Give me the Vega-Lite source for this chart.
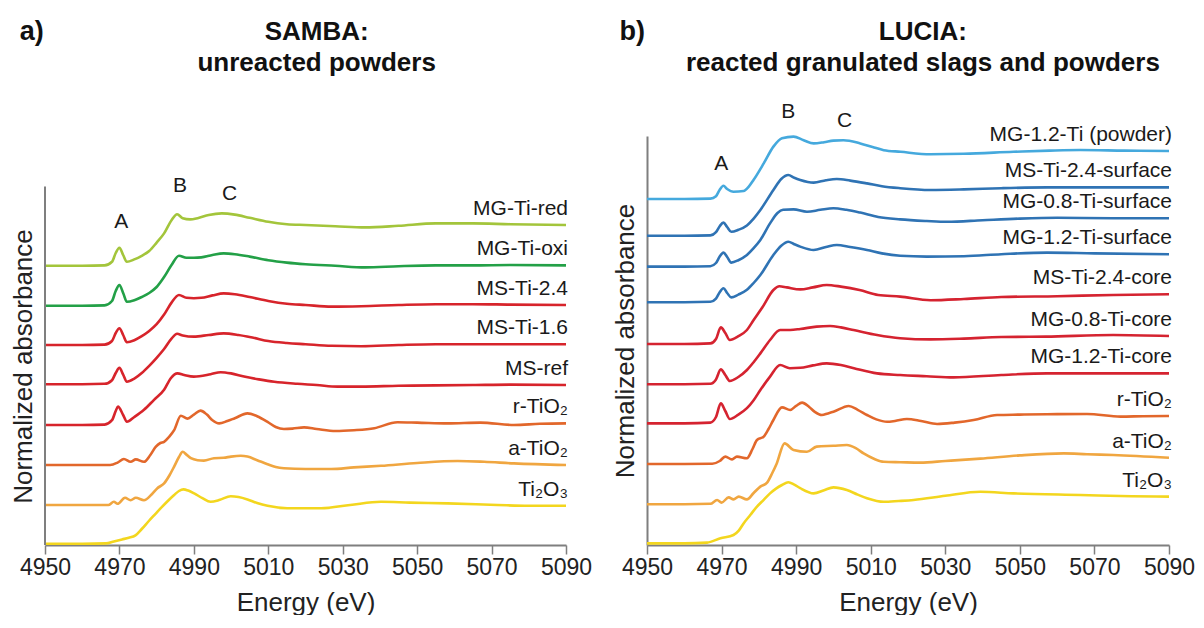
{
"$schema": "https://vega.github.io/schema/vega-lite/v6.json",
"background": "white",
"padding": {"left": 10, "top": 18, "right": 5, "bottom": 0},
"spacing": 20,
"config": {
  "view": {"stroke": null},
  "font": "Liberation Sans",
  "axisX": {"format": "d", "labelOverlap": false, "labelFlush": false, "grid": false, "labelFontSize": 23, "labelColor": "#222222", "labelPadding": 2, "tickSize": 9, "tickColor": "#7f7f7f", "tickWidth": 1.5, "domainColor": "#7f7f7f", "domainWidth": 2, "titleFontSize": 26, "titleFontWeight": "normal", "titleColor": "#222222", "titlePadding": 10},
  "axisY": {"labels": false, "ticks": false, "grid": false, "domainColor": "#7f7f7f", "domainWidth": 2, "titleFontSize": 26, "titleFontWeight": "normal", "titleColor": "#222222", "titlePadding": 9}
},
"resolve": {"scale": {"color": "independent"}},
"hconcat": [
{
  "width": 521, "height": 409,
  "data": {"values": [
{"s":"MG-Ti-red","e":4950,"v":6.98},{"s":"MG-Ti-red","e":4960,"v":6.98},{"s":"MG-Ti-red","e":4966,"v":6.99},{"s":"MG-Ti-red","e":4968,"v":7.08},{"s":"MG-Ti-red","e":4969,"v":7.3},{"s":"MG-Ti-red","e":4970,"v":7.43},{"s":"MG-Ti-red","e":4971,"v":7.25},{"s":"MG-Ti-red","e":4972,"v":7.08},{"s":"MG-Ti-red","e":4974,"v":7.14},{"s":"MG-Ti-red","e":4976,"v":7.23},{"s":"MG-Ti-red","e":4978,"v":7.35},{"s":"MG-Ti-red","e":4980,"v":7.56},{"s":"MG-Ti-red","e":4982,"v":7.79},{"s":"MG-Ti-red","e":4984,"v":8.12},{"s":"MG-Ti-red","e":4985.5,"v":8.27},{"s":"MG-Ti-red","e":4987,"v":8.17},{"s":"MG-Ti-red","e":4989,"v":8.14},{"s":"MG-Ti-red","e":4991,"v":8.17},{"s":"MG-Ti-red","e":4994,"v":8.25},{"s":"MG-Ti-red","e":4997.5,"v":8.29},{"s":"MG-Ti-red","e":5001,"v":8.26},{"s":"MG-Ti-red","e":5005,"v":8.18},{"s":"MG-Ti-red","e":5010,"v":8.08},{"s":"MG-Ti-red","e":5015,"v":8.02},{"s":"MG-Ti-red","e":5020,"v":8.0},{"s":"MG-Ti-red","e":5028,"v":7.97},{"s":"MG-Ti-red","e":5036,"v":7.94},{"s":"MG-Ti-red","e":5045,"v":7.98},{"s":"MG-Ti-red","e":5055,"v":8.04},{"s":"MG-Ti-red","e":5065,"v":8.04},{"s":"MG-Ti-red","e":5075,"v":8.02},{"s":"MG-Ti-red","e":5090,"v":8.0},
{"s":"MG-Ti-oxi","e":4950,"v":5.98},{"s":"MG-Ti-oxi","e":4960,"v":5.98},{"s":"MG-Ti-oxi","e":4966,"v":5.99},{"s":"MG-Ti-oxi","e":4968,"v":6.1},{"s":"MG-Ti-oxi","e":4969,"v":6.35},{"s":"MG-Ti-oxi","e":4970,"v":6.5},{"s":"MG-Ti-oxi","e":4971,"v":6.3},{"s":"MG-Ti-oxi","e":4972,"v":6.08},{"s":"MG-Ti-oxi","e":4974,"v":6.12},{"s":"MG-Ti-oxi","e":4976,"v":6.2},{"s":"MG-Ti-oxi","e":4978,"v":6.3},{"s":"MG-Ti-oxi","e":4980,"v":6.45},{"s":"MG-Ti-oxi","e":4982,"v":6.7},{"s":"MG-Ti-oxi","e":4984,"v":7.0},{"s":"MG-Ti-oxi","e":4986,"v":7.23},{"s":"MG-Ti-oxi","e":4988,"v":7.18},{"s":"MG-Ti-oxi","e":4990,"v":7.18},{"s":"MG-Ti-oxi","e":4992,"v":7.19},{"s":"MG-Ti-oxi","e":4995,"v":7.25},{"s":"MG-Ti-oxi","e":4998,"v":7.29},{"s":"MG-Ti-oxi","e":5001,"v":7.27},{"s":"MG-Ti-oxi","e":5005,"v":7.21},{"s":"MG-Ti-oxi","e":5010,"v":7.12},{"s":"MG-Ti-oxi","e":5015,"v":7.06},{"s":"MG-Ti-oxi","e":5020,"v":7.02},{"s":"MG-Ti-oxi","e":5028,"v":6.98},{"s":"MG-Ti-oxi","e":5036,"v":6.94},{"s":"MG-Ti-oxi","e":5045,"v":6.97},{"s":"MG-Ti-oxi","e":5055,"v":6.99},{"s":"MG-Ti-oxi","e":5065,"v":6.99},{"s":"MG-Ti-oxi","e":5075,"v":7.0},{"s":"MG-Ti-oxi","e":5090,"v":6.99},
{"s":"MS-Ti-2.4","e":4950,"v":5.0},{"s":"MS-Ti-2.4","e":4960,"v":5.0},{"s":"MS-Ti-2.4","e":4966,"v":5.01},{"s":"MS-Ti-2.4","e":4968,"v":5.1},{"s":"MS-Ti-2.4","e":4969,"v":5.3},{"s":"MS-Ti-2.4","e":4970,"v":5.42},{"s":"MS-Ti-2.4","e":4971,"v":5.25},{"s":"MS-Ti-2.4","e":4972,"v":5.07},{"s":"MS-Ti-2.4","e":4974,"v":5.12},{"s":"MS-Ti-2.4","e":4976,"v":5.22},{"s":"MS-Ti-2.4","e":4978,"v":5.35},{"s":"MS-Ti-2.4","e":4980,"v":5.52},{"s":"MS-Ti-2.4","e":4982,"v":5.76},{"s":"MS-Ti-2.4","e":4984,"v":6.06},{"s":"MS-Ti-2.4","e":4986,"v":6.25},{"s":"MS-Ti-2.4","e":4988,"v":6.18},{"s":"MS-Ti-2.4","e":4990,"v":6.17},{"s":"MS-Ti-2.4","e":4992,"v":6.18},{"s":"MS-Ti-2.4","e":4995,"v":6.24},{"s":"MS-Ti-2.4","e":4998,"v":6.29},{"s":"MS-Ti-2.4","e":5001,"v":6.27},{"s":"MS-Ti-2.4","e":5005,"v":6.2},{"s":"MS-Ti-2.4","e":5010,"v":6.1},{"s":"MS-Ti-2.4","e":5015,"v":6.03},{"s":"MS-Ti-2.4","e":5020,"v":6.0},{"s":"MS-Ti-2.4","e":5027,"v":5.96},{"s":"MS-Ti-2.4","e":5035,"v":5.97},{"s":"MS-Ti-2.4","e":5045,"v":6.0},{"s":"MS-Ti-2.4","e":5055,"v":6.02},{"s":"MS-Ti-2.4","e":5065,"v":6.02},{"s":"MS-Ti-2.4","e":5075,"v":6.01},{"s":"MS-Ti-2.4","e":5090,"v":6.0},
{"s":"MS-Ti-1.6","e":4950,"v":4.02},{"s":"MS-Ti-1.6","e":4960,"v":4.02},{"s":"MS-Ti-1.6","e":4966,"v":4.03},{"s":"MS-Ti-1.6","e":4968,"v":4.12},{"s":"MS-Ti-1.6","e":4969,"v":4.3},{"s":"MS-Ti-1.6","e":4970,"v":4.43},{"s":"MS-Ti-1.6","e":4971,"v":4.26},{"s":"MS-Ti-1.6","e":4972,"v":4.08},{"s":"MS-Ti-1.6","e":4974,"v":4.16},{"s":"MS-Ti-1.6","e":4976,"v":4.3},{"s":"MS-Ti-1.6","e":4978,"v":4.48},{"s":"MS-Ti-1.6","e":4980,"v":4.68},{"s":"MS-Ti-1.6","e":4982,"v":4.9},{"s":"MS-Ti-1.6","e":4984,"v":5.16},{"s":"MS-Ti-1.6","e":4985.5,"v":5.28},{"s":"MS-Ti-1.6","e":4987,"v":5.24},{"s":"MS-Ti-1.6","e":4990,"v":5.21},{"s":"MS-Ti-1.6","e":4994,"v":5.25},{"s":"MS-Ti-1.6","e":4998,"v":5.29},{"s":"MS-Ti-1.6","e":5002,"v":5.25},{"s":"MS-Ti-1.6","e":5006,"v":5.18},{"s":"MS-Ti-1.6","e":5010,"v":5.1},{"s":"MS-Ti-1.6","e":5015,"v":5.05},{"s":"MS-Ti-1.6","e":5020,"v":5.02},{"s":"MS-Ti-1.6","e":5027,"v":4.98},{"s":"MS-Ti-1.6","e":5035,"v":4.97},{"s":"MS-Ti-1.6","e":5045,"v":5.0},{"s":"MS-Ti-1.6","e":5055,"v":5.02},{"s":"MS-Ti-1.6","e":5065,"v":5.02},{"s":"MS-Ti-1.6","e":5075,"v":5.02},{"s":"MS-Ti-1.6","e":5090,"v":5.02},
{"s":"MS-ref","e":4950,"v":3.0},{"s":"MS-ref","e":4960,"v":3.0},{"s":"MS-ref","e":4966,"v":3.01},{"s":"MS-ref","e":4968,"v":3.12},{"s":"MS-ref","e":4969,"v":3.35},{"s":"MS-ref","e":4969.6,"v":3.46},{"s":"MS-ref","e":4971,"v":3.25},{"s":"MS-ref","e":4972,"v":3.08},{"s":"MS-ref","e":4974,"v":3.2},{"s":"MS-ref","e":4976.6,"v":3.38},{"s":"MS-ref","e":4979.3,"v":3.63},{"s":"MS-ref","e":4982,"v":3.88},{"s":"MS-ref","e":4983.8,"v":4.17},{"s":"MS-ref","e":4985.6,"v":4.29},{"s":"MS-ref","e":4987.4,"v":4.25},{"s":"MS-ref","e":4990,"v":4.21},{"s":"MS-ref","e":4994.5,"v":4.27},{"s":"MS-ref","e":4997.2,"v":4.32},{"s":"MS-ref","e":5000,"v":4.29},{"s":"MS-ref","e":5003.5,"v":4.21},{"s":"MS-ref","e":5007.5,"v":4.14},{"s":"MS-ref","e":5011.6,"v":4.08},{"s":"MS-ref","e":5017.8,"v":4.03},{"s":"MS-ref","e":5023,"v":4.0},{"s":"MS-ref","e":5028.6,"v":3.96},{"s":"MS-ref","e":5035,"v":3.96},{"s":"MS-ref","e":5045,"v":3.98},{"s":"MS-ref","e":5055,"v":3.99},{"s":"MS-ref","e":5065,"v":4.0},{"s":"MS-ref","e":5075,"v":4.01},{"s":"MS-ref","e":5090,"v":4.0},
{"s":"r-TiO₂","e":4950,"v":2.0},{"s":"r-TiO₂","e":4960,"v":2.0},{"s":"r-TiO₂","e":4967.5,"v":2.0},{"s":"r-TiO₂","e":4969.5,"v":2.06},{"s":"r-TiO₂","e":4971.2,"v":2.15},{"s":"r-TiO₂","e":4973,"v":2.08},{"s":"r-TiO₂","e":4974.4,"v":2.14},{"s":"r-TiO₂","e":4976.6,"v":2.08},{"s":"r-TiO₂","e":4978.3,"v":2.25},{"s":"r-TiO₂","e":4979.8,"v":2.46},{"s":"r-TiO₂","e":4981,"v":2.55},{"s":"r-TiO₂","e":4982,"v":2.58},{"s":"r-TiO₂","e":4983.3,"v":2.7},{"s":"r-TiO₂","e":4984.7,"v":2.87},{"s":"r-TiO₂","e":4986.5,"v":3.23},{"s":"r-TiO₂","e":4988.3,"v":3.16},{"s":"r-TiO₂","e":4990,"v":3.26},{"s":"r-TiO₂","e":4991.8,"v":3.36},{"s":"r-TiO₂","e":4993.5,"v":3.26},{"s":"r-TiO₂","e":4995,"v":3.12},{"s":"r-TiO₂","e":4996.8,"v":3.04},{"s":"r-TiO₂","e":4999,"v":3.1},{"s":"r-TiO₂","e":5001,"v":3.17},{"s":"r-TiO₂","e":5004.4,"v":3.29},{"s":"r-TiO₂","e":5007,"v":3.22},{"s":"r-TiO₂","e":5009.8,"v":3.08},{"s":"r-TiO₂","e":5012,"v":2.95},{"s":"r-TiO₂","e":5014.2,"v":2.9},{"s":"r-TiO₂","e":5016.5,"v":2.91},{"s":"r-TiO₂","e":5019.6,"v":2.94},{"s":"r-TiO₂","e":5023,"v":2.9},{"s":"r-TiO₂","e":5028.1,"v":2.85},{"s":"r-TiO₂","e":5033,"v":2.87},{"s":"r-TiO₂","e":5038.5,"v":2.92},{"s":"r-TiO₂","e":5044.7,"v":3.07},{"s":"r-TiO₂","e":5050,"v":3.06},{"s":"r-TiO₂","e":5058.2,"v":3.04},{"s":"r-TiO₂","e":5067,"v":3.06},{"s":"r-TiO₂","e":5076,"v":3.0},{"s":"r-TiO₂","e":5083,"v":3.03},{"s":"r-TiO₂","e":5090,"v":3.04},
{"s":"a-TiO₂","e":4950,"v":1.0},{"s":"a-TiO₂","e":4960,"v":1.0},{"s":"a-TiO₂","e":4967,"v":1.0},{"s":"a-TiO₂","e":4968.5,"v":1.08},{"s":"a-TiO₂","e":4969.5,"v":1.03},{"s":"a-TiO₂","e":4971.5,"v":1.18},{"s":"a-TiO₂","e":4973,"v":1.12},{"s":"a-TiO₂","e":4974.4,"v":1.18},{"s":"a-TiO₂","e":4976.6,"v":1.12},{"s":"a-TiO₂","e":4978.5,"v":1.25},{"s":"a-TiO₂","e":4980.2,"v":1.42},{"s":"a-TiO₂","e":4982,"v":1.54},{"s":"a-TiO₂","e":4983.5,"v":1.75},{"s":"a-TiO₂","e":4984.7,"v":1.96},{"s":"a-TiO₂","e":4986,"v":2.2},{"s":"a-TiO₂","e":4987,"v":2.33},{"s":"a-TiO₂","e":4988,"v":2.26},{"s":"a-TiO₂","e":4989.2,"v":2.17},{"s":"a-TiO₂","e":4991,"v":2.12},{"s":"a-TiO₂","e":4992.7,"v":2.11},{"s":"a-TiO₂","e":4995.4,"v":2.17},{"s":"a-TiO₂","e":4998,"v":2.18},{"s":"a-TiO₂","e":5000,"v":2.21},{"s":"a-TiO₂","e":5002.6,"v":2.23},{"s":"a-TiO₂","e":5004.4,"v":2.21},{"s":"a-TiO₂","e":5007,"v":2.12},{"s":"a-TiO₂","e":5009.8,"v":2.02},{"s":"a-TiO₂","e":5012,"v":1.95},{"s":"a-TiO₂","e":5014.2,"v":1.92},{"s":"a-TiO₂","e":5020,"v":1.9},{"s":"a-TiO₂","e":5026.9,"v":1.9},{"s":"a-TiO₂","e":5033,"v":1.94},{"s":"a-TiO₂","e":5040.3,"v":1.98},{"s":"a-TiO₂","e":5050,"v":2.05},{"s":"a-TiO₂","e":5060.9,"v":2.1},{"s":"a-TiO₂","e":5068,"v":2.08},{"s":"a-TiO₂","e":5076,"v":2.04},{"s":"a-TiO₂","e":5090,"v":2.0},
{"s":"Ti₂O₃","e":4950,"v":0.03},{"s":"Ti₂O₃","e":4960,"v":0.03},{"s":"Ti₂O₃","e":4966.4,"v":0.04},{"s":"Ti₂O₃","e":4968.5,"v":0.09},{"s":"Ti₂O₃","e":4970.7,"v":0.14},{"s":"Ti₂O₃","e":4972.5,"v":0.18},{"s":"Ti₂O₃","e":4974.3,"v":0.24},{"s":"Ti₂O₃","e":4976,"v":0.4},{"s":"Ti₂O₃","e":4977.9,"v":0.6},{"s":"Ti₂O₃","e":4979.7,"v":0.78},{"s":"Ti₂O₃","e":4981.5,"v":0.96},{"s":"Ti₂O₃","e":4983.2,"v":1.12},{"s":"Ti₂O₃","e":4984.7,"v":1.25},{"s":"Ti₂O₃","e":4986,"v":1.35},{"s":"Ti₂O₃","e":4987.2,"v":1.39},{"s":"Ti₂O₃","e":4988.5,"v":1.36},{"s":"Ti₂O₃","e":4990.1,"v":1.29},{"s":"Ti₂O₃","e":4992.3,"v":1.17},{"s":"Ti₂O₃","e":4994.5,"v":1.08},{"s":"Ti₂O₃","e":4997,"v":1.13},{"s":"Ti₂O₃","e":4999.9,"v":1.22},{"s":"Ti₂O₃","e":5002,"v":1.2},{"s":"Ti₂O₃","e":5004.4,"v":1.14},{"s":"Ti₂O₃","e":5007,"v":1.05},{"s":"Ti₂O₃","e":5009.8,"v":0.98},{"s":"Ti₂O₃","e":5015.1,"v":0.92},{"s":"Ti₂O₃","e":5020,"v":0.92},{"s":"Ti₂O₃","e":5024.2,"v":0.92},{"s":"Ti₂O₃","e":5032,"v":1.0},{"s":"Ti₂O₃","e":5040.3,"v":1.08},{"s":"Ti₂O₃","e":5048,"v":1.06},{"s":"Ti₂O₃","e":5058.2,"v":1.04},{"s":"Ti₂O₃","e":5071.6,"v":1.0},{"s":"Ti₂O₃","e":5080,"v":0.98},{"s":"Ti₂O₃","e":5090,"v":0.98}
  ]},
  "layer": [
    {"mark": {"type": "line", "strokeWidth": 2.6, "interpolate": "monotone"},
     "encoding": {
       "x": {"field": "e", "type": "quantitative", "scale": {"domain": [4950, 5090], "nice": false, "zero": false}, "axis": {"title": "Energy (eV)", "values": [4950,4970,4990,5010,5030,5050,5070,5090]}},
       "y": {"field": "v", "type": "quantitative", "scale": {"domain": [0, 10.225], "nice": false}, "axis": {"title": "Normalized absorbance", "domain": false, "titleY": 230}},
       "color": {"field": "s", "type": "nominal", "legend": null, "scale": {"domain": ["MG-Ti-red","MG-Ti-oxi","MS-Ti-2.4","MS-Ti-1.6","MS-ref","r-TiO₂","a-TiO₂","Ti₂O₃"], "range": ["#a3c53b","#23a047","#d7242b","#d7242b","#d7242b","#e2672b","#f0a640","#f3d61e"]}}
     }},
    {"transform": [{"filter": "datum.e == 5090"}],
     "mark": {"type": "text", "align": "right", "baseline": "alphabetic", "dy": -10, "dx": 2, "fontSize": 21, "color": "#1a1a1a"},
     "encoding": {"x": {"field": "e", "type": "quantitative"}, "y": {"field": "v", "type": "quantitative"}, "text": {"field": "s"}}},
    {"data": {"values": [{"t":"A","e":4970.5,"v":7.925},{"t":"B","e":4986.3,"v":8.825},{"t":"C","e":4999.6,"v":8.625}]},
     "mark": {"type": "text", "align": "center", "baseline": "alphabetic", "fontSize": 21, "color": "#1a1a1a"},
     "encoding": {"x": {"field": "e", "type": "quantitative"}, "y": {"field": "v", "type": "quantitative"}, "text": {"field": "t"}}},
    {"data": {"values": [{"t":"SAMBA:","e":5023,"v":12.625},{"t":"unreacted powders","e":5023,"v":11.85}]},
     "mark": {"type": "text", "align": "center", "baseline": "alphabetic", "fontSize": 26, "fontWeight": "bold", "color": "#111111"},
     "encoding": {"x": {"field": "e", "type": "quantitative"}, "y": {"field": "v", "type": "quantitative"}, "text": {"field": "t"}}},
    {"data": {"values": [{"t":"a)","e":4943.2,"v":12.625}]},
     "mark": {"type": "text", "align": "left", "baseline": "alphabetic", "fontSize": 27, "fontWeight": "bold", "color": "#111111"},
     "encoding": {"x": {"field": "e", "type": "quantitative"}, "y": {"field": "v", "type": "quantitative"}, "text": {"field": "t"}}},
    {"data": {"values": [{}]},
     "mark": {"type": "rule", "color": "#7f7f7f", "strokeWidth": 2},
     "encoding": {"x": {"datum": 4950, "type": "quantitative"}, "y": {"datum": 0, "type": "quantitative"}, "y2": {"datum": 8.96}}}
  ]
},
{
  "width": 522, "height": 409,
  "data": {"values": [
{"s":"MG-1.2-Ti (powder)","e":4950,"v":8.65},{"s":"MG-1.2-Ti (powder)","e":4960,"v":8.65},{"s":"MG-1.2-Ti (powder)","e":4967,"v":8.66},{"s":"MG-1.2-Ti (powder)","e":4968.5,"v":8.72},{"s":"MG-1.2-Ti (powder)","e":4969.5,"v":8.88},{"s":"MG-1.2-Ti (powder)","e":4970.5,"v":8.98},{"s":"MG-1.2-Ti (powder)","e":4971.5,"v":8.9},{"s":"MG-1.2-Ti (powder)","e":4973.2,"v":8.83},{"s":"MG-1.2-Ti (powder)","e":4975.9,"v":8.85},{"s":"MG-1.2-Ti (powder)","e":4977.3,"v":8.96},{"s":"MG-1.2-Ti (powder)","e":4978.6,"v":9.13},{"s":"MG-1.2-Ti (powder)","e":4981.3,"v":9.54},{"s":"MG-1.2-Ti (powder)","e":4983.9,"v":9.96},{"s":"MG-1.2-Ti (powder)","e":4986.2,"v":10.17},{"s":"MG-1.2-Ti (powder)","e":4989.3,"v":10.21},{"s":"MG-1.2-Ti (powder)","e":4992,"v":10.12},{"s":"MG-1.2-Ti (powder)","e":4994.7,"v":10.04},{"s":"MG-1.2-Ti (powder)","e":4997.5,"v":10.07},{"s":"MG-1.2-Ti (powder)","e":5000,"v":10.11},{"s":"MG-1.2-Ti (powder)","e":5002.7,"v":10.12},{"s":"MG-1.2-Ti (powder)","e":5007.2,"v":10.04},{"s":"MG-1.2-Ti (powder)","e":5010.5,"v":9.95},{"s":"MG-1.2-Ti (powder)","e":5013.5,"v":9.87},{"s":"MG-1.2-Ti (powder)","e":5018,"v":9.83},{"s":"MG-1.2-Ti (powder)","e":5026,"v":9.77},{"s":"MG-1.2-Ti (powder)","e":5035,"v":9.78},{"s":"MG-1.2-Ti (powder)","e":5048.3,"v":9.83},{"s":"MG-1.2-Ti (powder)","e":5058,"v":9.86},{"s":"MG-1.2-Ti (powder)","e":5066.2,"v":9.875},{"s":"MG-1.2-Ti (powder)","e":5078,"v":9.86},{"s":"MG-1.2-Ti (powder)","e":5090,"v":9.85},
{"s":"MS-Ti-2.4-surface","e":4950,"v":7.73},{"s":"MS-Ti-2.4-surface","e":4960,"v":7.73},{"s":"MS-Ti-2.4-surface","e":4967,"v":7.74},{"s":"MS-Ti-2.4-surface","e":4968.5,"v":7.82},{"s":"MS-Ti-2.4-surface","e":4969.5,"v":7.97},{"s":"MS-Ti-2.4-surface","e":4970.5,"v":8.06},{"s":"MS-Ti-2.4-surface","e":4971.5,"v":7.95},{"s":"MS-Ti-2.4-surface","e":4972.6,"v":7.83},{"s":"MS-Ti-2.4-surface","e":4974.5,"v":7.88},{"s":"MS-Ti-2.4-surface","e":4976.8,"v":7.99},{"s":"MS-Ti-2.4-surface","e":4978.6,"v":8.16},{"s":"MS-Ti-2.4-surface","e":4980.4,"v":8.375},{"s":"MS-Ti-2.4-surface","e":4983.9,"v":8.875},{"s":"MS-Ti-2.4-surface","e":4986,"v":9.15},{"s":"MS-Ti-2.4-surface","e":4987.9,"v":9.25},{"s":"MS-Ti-2.4-surface","e":4989.5,"v":9.18},{"s":"MS-Ti-2.4-surface","e":4991.1,"v":9.125},{"s":"MS-Ti-2.4-surface","e":4994.7,"v":9.06},{"s":"MS-Ti-2.4-surface","e":4998,"v":9.12},{"s":"MS-Ti-2.4-surface","e":5000.9,"v":9.15},{"s":"MS-Ti-2.4-surface","e":5004.5,"v":9.11},{"s":"MS-Ti-2.4-surface","e":5009,"v":9.04},{"s":"MS-Ti-2.4-surface","e":5013,"v":8.97},{"s":"MS-Ti-2.4-surface","e":5017.9,"v":8.92},{"s":"MS-Ti-2.4-surface","e":5026,"v":8.875},{"s":"MS-Ti-2.4-surface","e":5035,"v":8.89},{"s":"MS-Ti-2.4-surface","e":5045,"v":8.92},{"s":"MS-Ti-2.4-surface","e":5057.3,"v":8.94},{"s":"MS-Ti-2.4-surface","e":5070,"v":8.94},{"s":"MS-Ti-2.4-surface","e":5080,"v":8.94},{"s":"MS-Ti-2.4-surface","e":5090,"v":8.94},
{"s":"MG-0.8-Ti-surface","e":4950,"v":6.96},{"s":"MG-0.8-Ti-surface","e":4960,"v":6.96},{"s":"MG-0.8-Ti-surface","e":4967,"v":6.97},{"s":"MG-0.8-Ti-surface","e":4968.5,"v":7.05},{"s":"MG-0.8-Ti-surface","e":4969.5,"v":7.21},{"s":"MG-0.8-Ti-surface","e":4970.5,"v":7.31},{"s":"MG-0.8-Ti-surface","e":4971.5,"v":7.2},{"s":"MG-0.8-Ti-surface","e":4972.6,"v":7.06},{"s":"MG-0.8-Ti-surface","e":4974.5,"v":7.12},{"s":"MG-0.8-Ti-surface","e":4976.8,"v":7.25},{"s":"MG-0.8-Ti-surface","e":4978.6,"v":7.42},{"s":"MG-0.8-Ti-surface","e":4980.4,"v":7.625},{"s":"MG-0.8-Ti-surface","e":4983,"v":8.04},{"s":"MG-0.8-Ti-surface","e":4985,"v":8.3},{"s":"MG-0.8-Ti-surface","e":4986.5,"v":8.38},{"s":"MG-0.8-Ti-surface","e":4989.3,"v":8.39},{"s":"MG-0.8-Ti-surface","e":4992.9,"v":8.33},{"s":"MG-0.8-Ti-surface","e":4996.5,"v":8.38},{"s":"MG-0.8-Ti-surface","e":5000,"v":8.42},{"s":"MG-0.8-Ti-surface","e":5003.5,"v":8.38},{"s":"MG-0.8-Ti-surface","e":5007.2,"v":8.31},{"s":"MG-0.8-Ti-surface","e":5012,"v":8.2},{"s":"MG-0.8-Ti-surface","e":5017.9,"v":8.14},{"s":"MG-0.8-Ti-surface","e":5025,"v":8.1},{"s":"MG-0.8-Ti-surface","e":5030.5,"v":8.08},{"s":"MG-0.8-Ti-surface","e":5040,"v":8.12},{"s":"MG-0.8-Ti-surface","e":5050,"v":8.16},{"s":"MG-0.8-Ti-surface","e":5060,"v":8.18},{"s":"MG-0.8-Ti-surface","e":5075,"v":8.17},{"s":"MG-0.8-Ti-surface","e":5090,"v":8.17},
{"s":"MG-1.2-Ti-surface","e":4950,"v":6.07},{"s":"MG-1.2-Ti-surface","e":4960,"v":6.07},{"s":"MG-1.2-Ti-surface","e":4967,"v":6.08},{"s":"MG-1.2-Ti-surface","e":4968.5,"v":6.16},{"s":"MG-1.2-Ti-surface","e":4969.5,"v":6.32},{"s":"MG-1.2-Ti-surface","e":4970.5,"v":6.42},{"s":"MG-1.2-Ti-surface","e":4971.5,"v":6.3},{"s":"MG-1.2-Ti-surface","e":4972.6,"v":6.19},{"s":"MG-1.2-Ti-surface","e":4974.5,"v":6.26},{"s":"MG-1.2-Ti-surface","e":4976.8,"v":6.38},{"s":"MG-1.2-Ti-surface","e":4978.6,"v":6.55},{"s":"MG-1.2-Ti-surface","e":4980.4,"v":6.75},{"s":"MG-1.2-Ti-surface","e":4983.9,"v":7.25},{"s":"MG-1.2-Ti-surface","e":4986,"v":7.48},{"s":"MG-1.2-Ti-surface","e":4987.9,"v":7.58},{"s":"MG-1.2-Ti-surface","e":4989.5,"v":7.52},{"s":"MG-1.2-Ti-surface","e":4991.1,"v":7.46},{"s":"MG-1.2-Ti-surface","e":4994.7,"v":7.375},{"s":"MG-1.2-Ti-surface","e":4998,"v":7.45},{"s":"MG-1.2-Ti-surface","e":5000.9,"v":7.5},{"s":"MG-1.2-Ti-surface","e":5004.5,"v":7.45},{"s":"MG-1.2-Ti-surface","e":5009,"v":7.375},{"s":"MG-1.2-Ti-surface","e":5013,"v":7.29},{"s":"MG-1.2-Ti-surface","e":5017.9,"v":7.23},{"s":"MG-1.2-Ti-surface","e":5025,"v":7.21},{"s":"MG-1.2-Ti-surface","e":5035,"v":7.22},{"s":"MG-1.2-Ti-surface","e":5045,"v":7.27},{"s":"MG-1.2-Ti-surface","e":5057.3,"v":7.31},{"s":"MG-1.2-Ti-surface","e":5070,"v":7.29},{"s":"MG-1.2-Ti-surface","e":5090,"v":7.27},
{"s":"MS-Ti-2.4-core","e":4950,"v":5.025},{"s":"MS-Ti-2.4-core","e":4960,"v":5.025},{"s":"MS-Ti-2.4-core","e":4967,"v":5.04},{"s":"MS-Ti-2.4-core","e":4968.5,"v":5.15},{"s":"MS-Ti-2.4-core","e":4969.8,"v":5.44},{"s":"MS-Ti-2.4-core","e":4971,"v":5.3},{"s":"MS-Ti-2.4-core","e":4972.2,"v":5.125},{"s":"MS-Ti-2.4-core","e":4974.5,"v":5.22},{"s":"MS-Ti-2.4-core","e":4976.8,"v":5.375},{"s":"MS-Ti-2.4-core","e":4978.6,"v":5.625},{"s":"MS-Ti-2.4-core","e":4981,"v":5.95},{"s":"MS-Ti-2.4-core","e":4983.9,"v":6.375},{"s":"MS-Ti-2.4-core","e":4985.5,"v":6.47},{"s":"MS-Ti-2.4-core","e":4987.5,"v":6.44},{"s":"MS-Ti-2.4-core","e":4991.1,"v":6.39},{"s":"MS-Ti-2.4-core","e":4994.5,"v":6.44},{"s":"MS-Ti-2.4-core","e":4998.2,"v":6.5},{"s":"MS-Ti-2.4-core","e":5002,"v":6.46},{"s":"MS-Ti-2.4-core","e":5007,"v":6.375},{"s":"MS-Ti-2.4-core","e":5012,"v":6.25},{"s":"MS-Ti-2.4-core","e":5017.9,"v":6.21},{"s":"MS-Ti-2.4-core","e":5026,"v":6.12},{"s":"MS-Ti-2.4-core","e":5035,"v":6.15},{"s":"MS-Ti-2.4-core","e":5045,"v":6.2},{"s":"MS-Ti-2.4-core","e":5060,"v":6.22},{"s":"MS-Ti-2.4-core","e":5075,"v":6.25},{"s":"MS-Ti-2.4-core","e":5090,"v":6.27},
{"s":"MG-0.8-Ti-core","e":4950,"v":4.02},{"s":"MG-0.8-Ti-core","e":4960,"v":4.02},{"s":"MG-0.8-Ti-core","e":4967,"v":4.03},{"s":"MG-0.8-Ti-core","e":4968.5,"v":4.14},{"s":"MG-0.8-Ti-core","e":4969.8,"v":4.39},{"s":"MG-0.8-Ti-core","e":4971,"v":4.25},{"s":"MG-0.8-Ti-core","e":4972.2,"v":4.1},{"s":"MG-0.8-Ti-core","e":4974.5,"v":4.2},{"s":"MG-0.8-Ti-core","e":4976.8,"v":4.375},{"s":"MG-0.8-Ti-core","e":4978.6,"v":4.57},{"s":"MG-0.8-Ti-core","e":4980.4,"v":4.79},{"s":"MG-0.8-Ti-core","e":4983,"v":5.125},{"s":"MG-0.8-Ti-core","e":4985.7,"v":5.375},{"s":"MG-0.8-Ti-core","e":4988.4,"v":5.375},{"s":"MG-0.8-Ti-core","e":4991.1,"v":5.4},{"s":"MG-0.8-Ti-core","e":4995.5,"v":5.46},{"s":"MG-0.8-Ti-core","e":4999.1,"v":5.475},{"s":"MG-0.8-Ti-core","e":5002,"v":5.44},{"s":"MG-0.8-Ti-core","e":5005.4,"v":5.375},{"s":"MG-0.8-Ti-core","e":5011.7,"v":5.25},{"s":"MG-0.8-Ti-core","e":5017.9,"v":5.17},{"s":"MG-0.8-Ti-core","e":5026,"v":5.14},{"s":"MG-0.8-Ti-core","e":5035,"v":5.16},{"s":"MG-0.8-Ti-core","e":5045,"v":5.2},{"s":"MG-0.8-Ti-core","e":5057,"v":5.21},{"s":"MG-0.8-Ti-core","e":5075,"v":5.25},{"s":"MG-0.8-Ti-core","e":5090,"v":5.225},
{"s":"MG-1.2-Ti-core","e":4950,"v":3.04},{"s":"MG-1.2-Ti-core","e":4960,"v":3.04},{"s":"MG-1.2-Ti-core","e":4967,"v":3.06},{"s":"MG-1.2-Ti-core","e":4968.5,"v":3.2},{"s":"MG-1.2-Ti-core","e":4969.8,"v":3.54},{"s":"MG-1.2-Ti-core","e":4971,"v":3.35},{"s":"MG-1.2-Ti-core","e":4972.2,"v":3.15},{"s":"MG-1.2-Ti-core","e":4974.5,"v":3.26},{"s":"MG-1.2-Ti-core","e":4976.8,"v":3.42},{"s":"MG-1.2-Ti-core","e":4978.6,"v":3.62},{"s":"MG-1.2-Ti-core","e":4980.4,"v":3.875},{"s":"MG-1.2-Ti-core","e":4983,"v":4.21},{"s":"MG-1.2-Ti-core","e":4985.7,"v":4.5},{"s":"MG-1.2-Ti-core","e":4988.3,"v":4.42},{"s":"MG-1.2-Ti-core","e":4991.1,"v":4.43},{"s":"MG-1.2-Ti-core","e":4994.5,"v":4.49},{"s":"MG-1.2-Ti-core","e":4998.2,"v":4.54},{"s":"MG-1.2-Ti-core","e":5002,"v":4.5},{"s":"MG-1.2-Ti-core","e":5005.5,"v":4.42},{"s":"MG-1.2-Ti-core","e":5011.7,"v":4.29},{"s":"MG-1.2-Ti-core","e":5017.9,"v":4.25},{"s":"MG-1.2-Ti-core","e":5025,"v":4.22},{"s":"MG-1.2-Ti-core","e":5032.2,"v":4.19},{"s":"MG-1.2-Ti-core","e":5045,"v":4.25},{"s":"MG-1.2-Ti-core","e":5057.3,"v":4.29},{"s":"MG-1.2-Ti-core","e":5075,"v":4.29},{"s":"MG-1.2-Ti-core","e":5090,"v":4.29},
{"s":"r-TiO₂","e":4950,"v":2.025},{"s":"r-TiO₂","e":4960,"v":2.025},{"s":"r-TiO₂","e":4967.5,"v":2.03},{"s":"r-TiO₂","e":4969.5,"v":2.1},{"s":"r-TiO₂","e":4971,"v":2.21},{"s":"r-TiO₂","e":4972.8,"v":2.14},{"s":"r-TiO₂","e":4974.1,"v":2.21},{"s":"r-TiO₂","e":4976.8,"v":2.17},{"s":"r-TiO₂","e":4978.3,"v":2.4},{"s":"r-TiO₂","e":4979.5,"v":2.625},{"s":"r-TiO₂","e":4981.3,"v":2.71},{"s":"r-TiO₂","e":4982.6,"v":2.9},{"s":"r-TiO₂","e":4983.9,"v":3.125},{"s":"r-TiO₂","e":4986.2,"v":3.44},{"s":"r-TiO₂","e":4988.4,"v":3.375},{"s":"r-TiO₂","e":4990,"v":3.48},{"s":"r-TiO₂","e":4991.6,"v":3.56},{"s":"r-TiO₂","e":4993.5,"v":3.45},{"s":"r-TiO₂","e":4995,"v":3.33},{"s":"r-TiO₂","e":4996.9,"v":3.25},{"s":"r-TiO₂","e":4998.5,"v":3.29},{"s":"r-TiO₂","e":5000,"v":3.33},{"s":"r-TiO₂","e":5004.1,"v":3.475},{"s":"r-TiO₂","e":5006.5,"v":3.38},{"s":"r-TiO₂","e":5009,"v":3.25},{"s":"r-TiO₂","e":5011.5,"v":3.14},{"s":"r-TiO₂","e":5014.4,"v":3.08},{"s":"r-TiO₂","e":5016.5,"v":3.1},{"s":"r-TiO₂","e":5019.7,"v":3.15},{"s":"r-TiO₂","e":5023.5,"v":3.1},{"s":"r-TiO₂","e":5027.8,"v":3.025},{"s":"r-TiO₂","e":5032.5,"v":3.06},{"s":"r-TiO₂","e":5037.6,"v":3.125},{"s":"r-TiO₂","e":5043.9,"v":3.25},{"s":"r-TiO₂","e":5050,"v":3.26},{"s":"r-TiO₂","e":5057.3,"v":3.27},{"s":"r-TiO₂","e":5068,"v":3.275},{"s":"r-TiO₂","e":5077,"v":3.21},{"s":"r-TiO₂","e":5083,"v":3.22},{"s":"r-TiO₂","e":5090,"v":3.225},
{"s":"a-TiO₂","e":4950,"v":1.02},{"s":"a-TiO₂","e":4960,"v":1.02},{"s":"a-TiO₂","e":4967,"v":1.03},{"s":"a-TiO₂","e":4968.8,"v":1.125},{"s":"a-TiO₂","e":4970,"v":1.06},{"s":"a-TiO₂","e":4971.9,"v":1.19},{"s":"a-TiO₂","e":4973.2,"v":1.14},{"s":"a-TiO₂","e":4974.6,"v":1.21},{"s":"a-TiO₂","e":4976.8,"v":1.14},{"s":"a-TiO₂","e":4978.6,"v":1.3},{"s":"a-TiO₂","e":4980.4,"v":1.46},{"s":"a-TiO₂","e":4982.2,"v":1.56},{"s":"a-TiO₂","e":4983.6,"v":1.8},{"s":"a-TiO₂","e":4984.8,"v":2.04},{"s":"a-TiO₂","e":4986.9,"v":2.54},{"s":"a-TiO₂","e":4989.3,"v":2.375},{"s":"a-TiO₂","e":4992.9,"v":2.33},{"s":"a-TiO₂","e":4995.5,"v":2.46},{"s":"a-TiO₂","e":5000,"v":2.48},{"s":"a-TiO₂","e":5003.6,"v":2.5},{"s":"a-TiO₂","e":5006,"v":2.42},{"s":"a-TiO₂","e":5008.1,"v":2.29},{"s":"a-TiO₂","e":5011,"v":2.15},{"s":"a-TiO₂","e":5013.5,"v":2.08},{"s":"a-TiO₂","e":5018,"v":2.07},{"s":"a-TiO₂","e":5023.3,"v":2.06},{"s":"a-TiO₂","e":5030,"v":2.1},{"s":"a-TiO₂","e":5039.4,"v":2.16},{"s":"a-TiO₂","e":5050,"v":2.24},{"s":"a-TiO₂","e":5061.8,"v":2.29},{"s":"a-TiO₂","e":5068,"v":2.27},{"s":"a-TiO₂","e":5075.1,"v":2.25},{"s":"a-TiO₂","e":5090,"v":2.18},
{"s":"Ti₂O₃","e":4950,"v":0.04},{"s":"Ti₂O₃","e":4960,"v":0.04},{"s":"Ti₂O₃","e":4966.1,"v":0.06},{"s":"Ti₂O₃","e":4969.7,"v":0.17},{"s":"Ti₂O₃","e":4973.2,"v":0.25},{"s":"Ti₂O₃","e":4974.6,"v":0.36},{"s":"Ti₂O₃","e":4975.9,"v":0.54},{"s":"Ti₂O₃","e":4977.7,"v":0.75},{"s":"Ti₂O₃","e":4979.5,"v":0.96},{"s":"Ti₂O₃","e":4981.3,"v":1.13},{"s":"Ti₂O₃","e":4983,"v":1.29},{"s":"Ti₂O₃","e":4984.6,"v":1.41},{"s":"Ti₂O₃","e":4986.2,"v":1.5},{"s":"Ti₂O₃","e":4987.9,"v":1.57},{"s":"Ti₂O₃","e":4989.5,"v":1.51},{"s":"Ti₂O₃","e":4991.1,"v":1.42},{"s":"Ti₂O₃","e":4994.7,"v":1.29},{"s":"Ti₂O₃","e":4997.5,"v":1.37},{"s":"Ti₂O₃","e":5000,"v":1.44},{"s":"Ti₂O₃","e":5003.6,"v":1.375},{"s":"Ti₂O₃","e":5006.5,"v":1.26},{"s":"Ti₂O₃","e":5009,"v":1.17},{"s":"Ti₂O₃","e":5013.5,"v":1.08},{"s":"Ti₂O₃","e":5017.5,"v":1.1},{"s":"Ti₂O₃","e":5021.5,"v":1.125},{"s":"Ti₂O₃","e":5030,"v":1.23},{"s":"Ti₂O₃","e":5039.4,"v":1.33},{"s":"Ti₂O₃","e":5048.3,"v":1.29},{"s":"Ti₂O₃","e":5066.2,"v":1.25},{"s":"Ti₂O₃","e":5080,"v":1.22},{"s":"Ti₂O₃","e":5090,"v":1.21}
  ]},
  "layer": [
    {"mark": {"type": "line", "strokeWidth": 2.6, "interpolate": "monotone"},
     "encoding": {
       "x": {"field": "e", "type": "quantitative", "scale": {"domain": [4950, 5090], "nice": false, "zero": false}, "axis": {"title": "Energy (eV)", "values": [4950,4970,4990,5010,5030,5050,5070,5090]}},
       "y": {"field": "v", "type": "quantitative", "scale": {"domain": [0, 10.225], "nice": false}, "axis": {"title": "Normalized absorbance"}},
       "color": {"field": "s", "type": "nominal", "legend": null, "scale": {"domain": ["MG-1.2-Ti (powder)","MS-Ti-2.4-surface","MG-0.8-Ti-surface","MG-1.2-Ti-surface","MS-Ti-2.4-core","MG-0.8-Ti-core","MG-1.2-Ti-core","r-TiO₂","a-TiO₂","Ti₂O₃"], "range": ["#45a9dd","#2f73b4","#2f73b4","#2f73b4","#d52330","#d52330","#d52330","#e2672b","#f0a640","#f3d61e"]}}
     }},
    {"transform": [{"filter": "datum.e == 5090"}],
     "mark": {"type": "text", "align": "right", "baseline": "alphabetic", "dy": -10, "dx": 3, "fontSize": 21, "color": "#1a1a1a"},
     "encoding": {"x": {"field": "e", "type": "quantitative"}, "y": {"field": "v", "type": "quantitative"}, "text": {"field": "s"}}},
    {"data": {"values": [{"t":"A","e":4969.9,"v":9.375},{"t":"B","e":4987.9,"v":10.67},{"t":"C","e":5003,"v":10.46}]},
     "mark": {"type": "text", "align": "center", "baseline": "alphabetic", "fontSize": 21, "color": "#1a1a1a"},
     "encoding": {"x": {"field": "e", "type": "quantitative"}, "y": {"field": "v", "type": "quantitative"}, "text": {"field": "t"}}},
    {"data": {"values": [{"t":"LUCIA:","e":5024,"v":12.625},{"t":"reacted granulated slags and powders","e":5024,"v":11.85}]},
     "mark": {"type": "text", "align": "center", "baseline": "alphabetic", "fontSize": 26, "fontWeight": "bold", "color": "#111111"},
     "encoding": {"x": {"field": "e", "type": "quantitative"}, "y": {"field": "v", "type": "quantitative"}, "text": {"field": "t"}}},
    {"data": {"values": [{"t":"b)","e":4942.6,"v":12.625}]},
     "mark": {"type": "text", "align": "left", "baseline": "alphabetic", "fontSize": 27, "fontWeight": "bold", "color": "#111111"},
     "encoding": {"x": {"field": "e", "type": "quantitative"}, "y": {"field": "v", "type": "quantitative"}, "text": {"field": "t"}}}
  ]
}
]
}
